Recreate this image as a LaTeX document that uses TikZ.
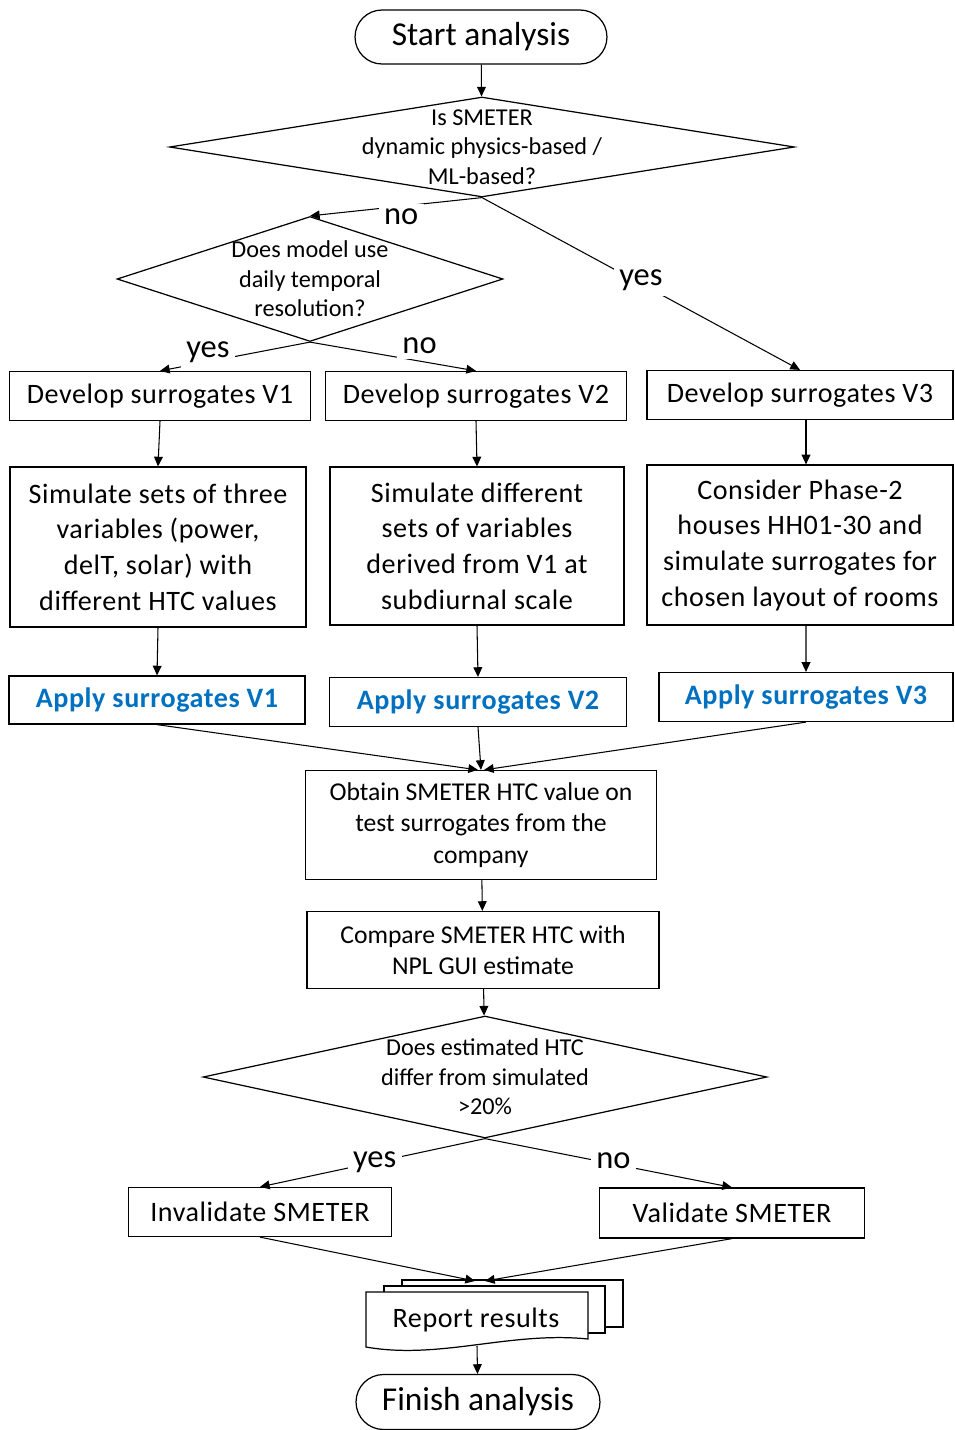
\documentclass[tikz,border=0pt]{standalone}
\usepackage{fontspec}
\setmainfont{Carlito}
\usetikzlibrary{arrows.meta,shapes.geometric,shapes.misc}
\definecolor{applyblue}{HTML}{0070C0}
\newcommand{\boxfont}{\fontsize{16}{20.3}\selectfont\addfontfeature{LetterSpace=2}}
\tikzset{
  term/.style={draw, rounded rectangle, line width=0.7pt, inner sep=0pt, font=\fontsize{19}{22}\selectfont},
  box/.style={draw, rectangle, line width=0.7pt, inner sep=0pt, align=center, font=\boxfont},
  apply/.style={box, text=applyblue, font=\boxfont\bfseries},
  tight/.style={box, font=\fontsize{14.6}{18}\selectfont},
  dec/.style={draw, diamond, line width=0.7pt, inner sep=0pt},
  dtxt/.style={inner sep=1pt, align=center, font=\fontsize{13.8}{16.7}\selectfont},
  lbl/.style={fill=white, inner sep=3pt, font=\fontsize{18.5}{20}\selectfont},
  arr/.style={-{Triangle[length=5.5pt,width=5pt]}, line width=0.6pt}
}
\begin{document}
\begin{tikzpicture}[x=0.02cm,y=-0.02cm]
    \useasboundingbox (0,0) rectangle (954,1430);

    % Start and first decision
    \node[term, minimum width=5.04cm, minimum height=1.08cm] (start) at (481,37) {Start analysis};
    \node[dec, minimum width=12.5cm, minimum height=2cm,
      label={[dtxt]center:{Is SMETER\\dynamic physics-based /\\ML-based?}}] (d1) at (482,147) {};
    \node[dec, minimum width=7.72cm, minimum height=2.5cm,
      label={[dtxt]center:{Does model use\\daily temporal\\resolution?}}] (d2) at (310,279) {};

    % Develop surrogates
    \node[box, minimum width=6.02cm, minimum height=0.98cm] (dev1) at (160,396) {Develop surrogates V1};
    \node[box, minimum width=6.02cm, minimum height=0.98cm] (dev2) at (476,396) {Develop surrogates V2};
    \node[box, minimum width=6.12cm, minimum height=0.98cm] (dev3) at (800,395) {Develop surrogates V3};

    % Simulation boxes
    \node[box, minimum width=5.92cm, minimum height=3.2cm] (sim1) at (158,547)
      {Simulate sets of three\\variables (power,\\delT, solar) with\\different HTC values};
    \node[box, minimum width=5.88cm, minimum height=3.16cm] (sim2) at (477,546)
      {Simulate different\\sets of variables\\derived from V1 at\\subdiurnal scale};
    \node[box, minimum width=6.12cm, minimum height=3.2cm] (sim3) at (800,545)
      {Consider Phase-2\\houses HH01-30 and\\simulate surrogates for\\chosen layout of rooms};

    % Apply surrogates
    \node[apply, minimum width=5.92cm, minimum height=0.96cm] (app1) at (157,700) {Apply surrogates V1};
    \node[apply, minimum width=5.94cm, minimum height=0.98cm] (app2) at (478,702) {Apply surrogates V2};
    \node[apply, minimum width=5.88cm, minimum height=0.98cm] (app3) at (806,697) {Apply surrogates V3};

    % Company test and comparison
    \node[tight, minimum width=7.02cm, minimum height=2.18cm] (obt) at (481,825)
      {Obtain SMETER HTC value on\\test surrogates from the\\company};
    \node[tight, minimum width=7.04cm, minimum height=1.54cm] (cmp) at (483,950)
      {Compare SMETER HTC with\\NPL GUI estimate};
    \node[dec, minimum width=11.28cm, minimum height=2.44cm,
      label={[dtxt]center:{Does estimated HTC\\differ from simulated\\>20\%}}] (d3) at (485,1077) {};

    % Outcomes
    \node[box, minimum width=5.26cm, minimum height=0.98cm] (inv) at (260,1212) {Invalidate SMETER};
    \node[box, minimum width=5.3cm, minimum height=1cm] (val) at (732,1213) {Validate SMETER};

    % Report (stack of documents)
    \draw[line width=0.7pt, fill=white] (402,1280) rectangle (623,1327);
    \draw[line width=0.7pt, fill=white] (384,1286) rectangle (605,1333);
    \draw[line width=0.7pt, fill=white] (366,1292) -- (588,1292) -- (588,1339)
      .. controls (510,1331) and (440,1360) .. (366,1347) -- cycle;
    \node[font=\boxfont, inner sep=0pt] (rep) at (476,1320) {Report results};
    \coordinate (reptop) at (480,1281);
    \coordinate (repbot) at (477,1346);
    \node[term, minimum width=4.88cm, minimum height=1.1cm] (fin) at (478,1402) {Finish analysis};

    % Connectors
    \draw[arr] (start) -- (d1);
    \draw[arr] (d1.south) -- node[lbl, pos=0.47, yshift=-0.22cm] {no} (d2.north);
    \draw[arr] (d1.south) -- node[lbl, pos=0.5, yshift=0.07cm] {yes} (dev3.north);
    \draw[arr] (d2.south) -- node[lbl, pos=0.68, yshift=0.18cm] {yes} (dev1.north);
    \draw[arr] (d2.south) -- node[lbl, pos=0.66, yshift=0.3cm] {no} (dev2.north);
    \draw[arr] (dev1.south) -- (sim1.north);
    \draw[arr] (dev2.south) -- (sim2.north);
    \draw[arr] ([xshift=0.12cm]dev3.south) -- ([xshift=0.12cm]sim3.north);
    \draw[arr] (sim1.south) -- (app1.north);
    \draw[arr] (sim2.south) -- (app2.north);
    \draw[arr] ([xshift=0.12cm]sim3.south) -- (app3.north);
    \draw[arr] (app1.south) -- ([xshift=-0.06cm]obt.north);
    \draw[arr] (app2.south) -- (obt.north);
    \draw[arr] (app3.south) -- ([xshift=0.06cm]obt.north);
    \draw[arr] (obt) -- (cmp);
    \draw[arr] (cmp) -- (d3);
    \draw[arr] (d3.south) -- node[lbl, pos=0.49, yshift=0cm] {yes} (inv.north);
    \draw[arr] (d3.south) -- node[lbl, pos=0.52, yshift=0.06cm] {no} (val.north);
    \draw[arr] (inv.south) -- ([xshift=-0.1cm]reptop);
    \draw[arr] (val.south) -- ([xshift=0.1cm]reptop);
    \draw[arr] (repbot) -- (fin);
\end{tikzpicture}
\end{document}
